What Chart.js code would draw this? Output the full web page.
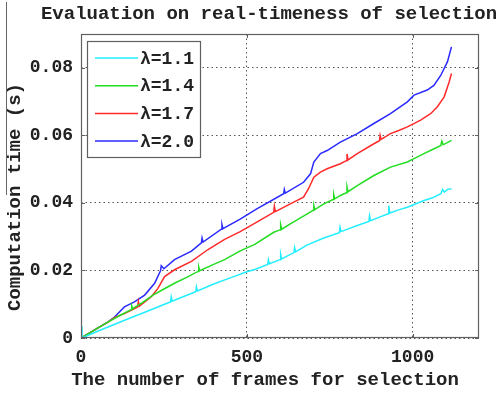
<!DOCTYPE html>
<html>
<head>
<meta charset="utf-8">
<script src="https://cdn.jsdelivr.net/npm/chart.js@4/dist/chart.umd.min.js"></script>
<style>
  html, body { margin: 0; padding: 0; background: #fff; }
  #wrap { position: relative; width: 498px; height: 393px; }
  #edge { position: absolute; left: 6px; top: 2px; width: 1px; height: 193px; background: #666; }
</style>
</head>
<body>
<div id="wrap">
  <canvas id="c" width="498" height="393"></canvas>
  <div id="edge"></div>
</div>
<script>
// ---- data ----
const chartTitle = 'Evaluation on real-timeness of selection';
const xTitle = 'The number of frames for selection';
const yTitle = 'Computation time (s)';
const seriesLabels = ['\u03bb=1.1', '\u03bb=1.4', '\u03bb=1.7', '\u03bb=2.0'];
const seriesColors = ['#22eeff', '#22dd22', '#ff2a2a', '#2a2aff'];
const xTickValues = [0, 500, 1000];
const yTickValues = [0, 0.02, 0.04, 0.06, 0.08];

const x11 = [0, 3, 50, 100, 150, 200, 250, 270, 272, 275, 300, 346, 348, 351, 400, 450, 500, 524, 563, 565, 568, 600, 602, 605, 642, 644, 647, 681, 732, 779, 781, 784, 833, 868, 870, 873, 900, 926, 928, 931, 960, 984, 1034, 1060, 1085, 1090, 1095, 1105, 1117];
const y11 = [0.0035, 0, 0.002, 0.0040, 0.0060, 0.0079, 0.0099, 0.0107, 0.0122, 0.0109, 0.0119, 0.0137, 0.0152, 0.0139, 0.0160, 0.0178, 0.0196, 0.0203, 0.0218, 0.0232, 0.0220, 0.0232, 0.0248, 0.0234, 0.0253, 0.0268, 0.0255, 0.0275, 0.0296, 0.0312, 0.0328, 0.0315, 0.0333, 0.0345, 0.0362, 0.0347, 0.0358, 0.0368, 0.0392, 0.0370, 0.0380, 0.0387, 0.0407, 0.0415, 0.0427, 0.0440, 0.0432, 0.0440, 0.0442];

const x14 = [0, 50, 81, 120, 151, 153, 156, 185, 217, 250, 282, 320, 353, 355, 358, 400, 433, 480, 524, 581, 600, 602, 605, 631, 681, 700, 702, 705, 732, 760, 762, 765, 782, 800, 802, 805, 833, 883, 933, 984, 1004, 1034, 1060, 1085, 1088, 1092, 1117];
const y14 = [0, 0.0029, 0.0047, 0.0068, 0.0084, 0.0095, 0.0087, 0.0105, 0.0127, 0.0145, 0.0162, 0.0180, 0.0197, 0.0210, 0.0199, 0.0218, 0.0232, 0.0258, 0.0277, 0.0313, 0.0320, 0.0335, 0.0322, 0.0338, 0.0367, 0.0378, 0.0392, 0.0380, 0.0397, 0.0410, 0.0425, 0.0412, 0.0422, 0.0430, 0.0447, 0.0433, 0.0451, 0.0481, 0.0506, 0.0521, 0.0531, 0.0546, 0.0558, 0.0570, 0.0583, 0.0572, 0.0585];

const x17 = [0, 50, 81, 103, 131, 171, 173, 176, 212, 232, 252, 282, 333, 383, 433, 480, 530, 581, 583, 586, 631, 671, 686, 702, 722, 742, 782, 800, 802, 805, 833, 883, 900, 902, 905, 933, 960, 984, 1024, 1054, 1074, 1095, 1110, 1117];
const y17 = [0, 0.0029, 0.0047, 0.0062, 0.0072, 0.0092, 0.0108, 0.0094, 0.0122, 0.0147, 0.0182, 0.0202, 0.0227, 0.0262, 0.0292, 0.0315, 0.0343, 0.0372, 0.0390, 0.0374, 0.0397, 0.0417, 0.0442, 0.0476, 0.0491, 0.0501, 0.0516, 0.0525, 0.0545, 0.0527, 0.0546, 0.0575, 0.0584, 0.0600, 0.0588, 0.0605, 0.0615, 0.0625, 0.0645, 0.0664, 0.0684, 0.0714, 0.0758, 0.0783];

const x20 = [0, 50, 81, 101, 131, 161, 192, 222, 240, 242, 250, 282, 333, 363, 365, 368, 423, 425, 428, 480, 530, 611, 613, 616, 671, 692, 702, 722, 742, 782, 833, 883, 933, 984, 1004, 1044, 1064, 1085, 1105, 1117];
const y20 = [0, 0.0029, 0.0047, 0.0062, 0.0092, 0.0107, 0.0127, 0.0162, 0.0200, 0.0214, 0.0205, 0.0232, 0.0257, 0.0282, 0.0296, 0.0284, 0.0322, 0.0336, 0.0324, 0.0352, 0.0382, 0.0427, 0.0440, 0.0429, 0.0461, 0.0486, 0.0521, 0.0546, 0.0555, 0.0580, 0.0605, 0.0635, 0.0664, 0.0699, 0.0719, 0.0734, 0.0748, 0.0778, 0.0818, 0.0862];

const seriesX = [x11, x14, x17, x20];
const seriesY = [y11, y14, y17, y20];

// ---- chart ----
const FONT = 'Liberation Mono';
const datasets = seriesLabels.map((lab, i) => ({
  label: lab,
  data: seriesX[i].map((x, j) => ({ x: x, y: seriesY[i][j] })),
  borderColor: seriesColors[i],
  backgroundColor: seriesColors[i],
  borderWidth: 1.5,
  pointRadius: 0,
  tension: 0,
  fill: false
}));

const framePlugin = {
  id: 'frame',
  afterDraw(chart) {
    const ctx = chart.ctx;
    const a = chart.chartArea;
    const xs = chart.scales.x, ys = chart.scales.y;
    ctx.save();
    ctx.strokeStyle = '#606060';
    ctx.lineWidth = 1.2;
    ctx.strokeRect(a.left + 0.5, a.top + 0.5, a.right - a.left - 1, a.bottom - a.top - 1);
    // inward tick marks
    ctx.lineWidth = 1;
    ctx.beginPath();
    xTickValues.forEach(v => {
      const px = Math.round(xs.getPixelForValue(v)) + 0.5;
      ctx.moveTo(px, a.bottom); ctx.lineTo(px, a.bottom - 4);
      ctx.moveTo(px, a.top); ctx.lineTo(px, a.top + 4);
    });
    yTickValues.forEach(v => {
      const py = Math.round(ys.getPixelForValue(v)) + 0.5;
      ctx.moveTo(a.left, py); ctx.lineTo(a.left + 4, py);
      ctx.moveTo(a.right, py); ctx.lineTo(a.right - 4, py);
    });
    ctx.stroke();

    // titles
    ctx.fillStyle = '#222';
    ctx.textBaseline = 'middle';
    ctx.textAlign = 'center';
    ctx.font = 'bold 19px "' + FONT + '"';
    ctx.fillText(chartTitle, 269, 14);
    ctx.font = 'bold 19px "' + FONT + '"';
    ctx.fillText(xTitle, 265, 380);
    ctx.save();
    ctx.translate(15, 197);
    ctx.rotate(-Math.PI / 2);
    ctx.fillText(yTitle, 0, 0);
    ctx.restore();

    // legend box
    const lx = 87, ly = 41, lw = 113, lh = 116;
    ctx.fillStyle = '#fff';
    ctx.fillRect(lx, ly, lw, lh);
    ctx.strokeStyle = '#606060';
    ctx.lineWidth = 1.2;
    ctx.strokeRect(lx + 0.5, ly + 0.5, lw, lh);
    ctx.font = 'bold 18px "' + FONT + '"';
    ctx.textAlign = 'left';
    chart.data.datasets.forEach((ds, i) => {
      const cy = 58 + i * 27.7;
      ctx.strokeStyle = ds.borderColor;
      ctx.lineWidth = 1.5;
      ctx.beginPath();
      ctx.moveTo(95, cy); ctx.lineTo(138, cy);
      ctx.stroke();
      ctx.fillStyle = '#222';
      ctx.fillText(ds.label, 140, cy + 1);
    });
    ctx.restore();
  }
};

new Chart(document.getElementById('c'), {
  type: 'line',
  data: { datasets: datasets },
  plugins: [framePlugin],
  options: {
    responsive: false,
    animation: false,
    layout: { padding: { top: 34, right: 19, left: 0, bottom: 0 } },
    plugins: {
      legend: { display: false },
      title: { display: false },
      tooltip: { enabled: false }
    },
    scales: {
      x: {
        type: 'linear',
        min: 0, max: 1200,
        afterBuildTicks: s => { s.ticks = xTickValues.map(v => ({ value: v })); },
        afterFit: s => { s.height = 55; },
        ticks: {
          color: '#222',
          font: { family: FONT, size: 18, weight: 'bold' },
          padding: 9,
          maxRotation: 0,
          callback: v => String(v)
        },
        grid: { color: '#555', lineWidth: 1, drawTicks: false },
        border: { display: false, dash: [1.5, 3] }
      },
      y: {
        type: 'linear',
        min: 0, max: 0.09,
        afterBuildTicks: s => { s.ticks = yTickValues.map(v => ({ value: v })); },
        afterFit: s => { s.width = 81; },
        ticks: {
          color: '#222',
          font: { family: FONT, size: 18, weight: 'bold' },
          padding: 8,
          callback: v => (v === 0 ? '0' : v.toFixed(2))
        },
        grid: { color: '#555', lineWidth: 1, drawTicks: false },
        border: { display: false, dash: [1.5, 3] }
      }
    }
  }
});
</script>
</body>
</html>
